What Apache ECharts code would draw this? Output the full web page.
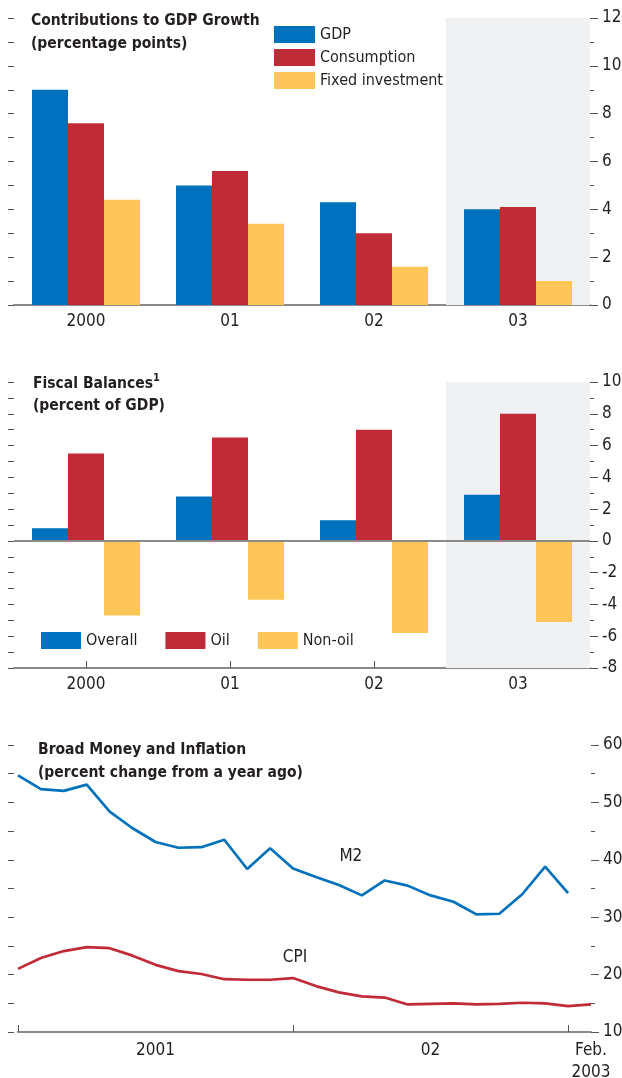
<!DOCTYPE html>
<html>
<head>
<meta charset="utf-8">
<script src="https://cdn.jsdelivr.net/npm/echarts@6/dist/echarts.min.js"></script>
<style>
  html, body { margin: 0; padding: 0; background: #fff; }
  #chart { width: 622px; height: 1078px; }
</style>
</head>
<body>
<div id="chart"></div>
<script>
// 数据
const years = ['2000', '01', '02', '03']
const gdpContrib = [9.0, 5.0, 4.3, 4.0]
const consumptionContrib = [7.6, 5.6, 3.0, 4.1]
const investmentContrib = [4.4, 3.4, 1.6, 1.0]

const overallBalance = [0.8, 2.8, 1.3, 2.9]
const oilBalance = [5.5, 6.5, 7.0, 8.0]
const nonOilBalance = [-4.7, -3.7, -5.8, -5.1]

const months = [
  'Jan 2001', 'Feb 2001', 'Mar 2001', 'Apr 2001', 'May 2001', 'Jun 2001',
  'Jul 2001', 'Aug 2001', 'Sep 2001', 'Oct 2001', 'Nov 2001', 'Dec 2001',
  'Jan 2002', 'Feb 2002', 'Mar 2002', 'Apr 2002', 'May 2002', 'Jun 2002',
  'Jul 2002', 'Aug 2002', 'Sep 2002', 'Oct 2002', 'Nov 2002', 'Dec 2002',
  'Jan 2003', 'Feb 2003'
]
const m2Growth = [
  54.7, 52.3, 52.0, 53.1, 48.4, 45.5, 43.1, 42.1, 42.2, 43.5, 38.4, 42.0,
  38.5, 37.0, 35.6, 33.8, 36.4, 35.5, 33.8, 32.7, 30.5, 30.6, 34.0, 38.8,
  34.2, null
]
const cpiInflation = [
  21.0, 22.9, 24.1, 24.8, 24.6, 23.3, 21.7, 20.6, 20.1, 19.2, 19.1, 19.1,
  19.4, 18.0, 16.9, 16.2, 16.0, 14.8, 14.9, 15.0, 14.8, 14.9, 15.1, 15.0,
  14.5, 14.8
]
const monthTickLabels = { 'Jul 2001': '2001', 'Jul 2002': '02', 'Feb 2003': 'Feb.\n2003' }
const projectionYear = '03'

const FONT = '"DejaVu Sans Condensed", "Liberation Sans Narrow", sans-serif'
const TEXT = '#231f20'
const AXIS = '#8a8a8a'
const BLUE = '#0071bc'
const RED = '#c02b37'
const YELLOW = '#fec659'
const SHADE = '#f0f1f3'
const LABEL_SIZE = 17

const chart = echarts.init(document.getElementById('chart'))

const rightAxis = (gridIndex, min, max, interval) => ({
  type: 'value',
  gridIndex,
  position: 'right',
  min, max, interval,
  splitLine: { show: false },
  axisLine: { show: false },
  axisTick: { show: true, length: 8, lineStyle: { color: '#555' } },
  minorTick: { show: true, splitNumber: 2, length: 4, lineStyle: { color: '#555' } },
  axisLabel: { margin: 12, color: TEXT, fontSize: LABEL_SIZE, fontFamily: FONT }
})

const leftAxis = (gridIndex, min, max, interval, offset) => ({
  type: 'value',
  gridIndex,
  position: 'left',
  offset: offset || 0,
  min, max, interval,
  splitLine: { show: false },
  axisLine: { show: false },
  axisTick: { show: true, length: 6, lineStyle: { color: '#555' } },
  axisLabel: { show: false }
})

const catAxis = (gridIndex, tickShow) => ({
  type: 'category',
  gridIndex,
  data: years,
  axisLine: { onZero: false, lineStyle: { color: AXIS, width: 2 } },
  axisTick: { show: tickShow, inside: true, alignWithLabel: true, length: 7, lineStyle: { color: '#555' } },
  axisLabel: { margin: 8, color: TEXT, fontSize: LABEL_SIZE, fontFamily: FONT }
})

const hiddenCatAxis = (gridIndex) => ({
  type: 'category', gridIndex, data: years, show: false
})

const shadeData = (val) => years.map(y => (y === projectionYear ? val : null))

const barBase = { type: 'bar', barGap: 0, barCategoryGap: '25%' }

const titleStyle = { fontSize: 15.5, fontWeight: 'bold', color: TEXT, fontFamily: FONT, lineHeight: 23 }
const legendText = { fontSize: 16, color: TEXT, fontFamily: FONT, lineHeight: 17 }

const option = {
  animation: false,
  textStyle: { fontFamily: FONT },
  title: [
    {
      text: 'Contributions to GDP Growth\n(percentage points)',
      left: 31, top: 9, padding: 0,
      textStyle: titleStyle
    },
    {
      text: 'Fiscal Balances{sup|1}\n(percent of GDP)',
      left: 33, top: 373, padding: 0,
      textStyle: {
        ...titleStyle, lineHeight: 22,
        rich: { sup: { fontSize: 11, fontWeight: 'bold', color: TEXT, fontFamily: FONT, verticalAlign: 'top', lineHeight: 16 } }
      }
    },
    {
      text: 'Broad Money and Inflation\n(percent change from a year ago)',
      left: 38, top: 738, padding: 0,
      textStyle: titleStyle
    }
  ],
  legend: [
    {
      data: ['GDP', 'Consumption', 'Fixed investment'],
      orient: 'vertical',
      left: 274, top: 26, padding: 0,
      itemWidth: 41, itemHeight: 17, itemGap: 6,
      icon: 'rect',
      textStyle: legendText
    },
    {
      data: ['Overall', 'Oil', 'Non-oil'],
      orient: 'horizontal',
      left: 41, top: 632, padding: 0,
      itemWidth: 40, itemHeight: 17, itemGap: 28,
      icon: 'rect',
      textStyle: legendText
    }
  ],
  grid: [
    { left: 14, right: 32, top: 18, height: 287, outerBoundsMode: 'none', containLabel: false },
    { left: 14, right: 32, top: 382, height: 286, outerBoundsMode: 'none', containLabel: false },
    { left: 18, right: 31, top: 745, height: 287, outerBoundsMode: 'none', containLabel: false }
  ],
  xAxis: [
    catAxis(0, false),
    hiddenCatAxis(0),
    catAxis(1, true),
    hiddenCatAxis(1),
    {
      type: 'category',
      gridIndex: 2,
      data: months,
      boundaryGap: false,
      axisLine: { onZero: false, lineStyle: { color: AXIS, width: 2 } },
      axisTick: {
        show: true, inside: true, length: 7,
        interval: (i) => i % 12 === 0,
        lineStyle: { color: '#555' }
      },
      axisLabel: {
        interval: 0, margin: 8, color: TEXT, fontSize: LABEL_SIZE, fontFamily: FONT, lineHeight: 22,
        formatter: (v) => monthTickLabels[v] || ''
      }
    }
  ],
  yAxis: [
    rightAxis(0, 0, 12, 2),
    leftAxis(0, 0, 12, 1),
    rightAxis(1, -8, 10, 2),
    leftAxis(1, -8, 10, 1),
    rightAxis(2, 10, 60, 10),
    leftAxis(2, 10, 60, 5, 4)
  ],
  series: [
    // 预测期阴影
    {
      name: 'shade1', type: 'bar', xAxisIndex: 1, yAxisIndex: 0,
      barWidth: '100%', silent: true, itemStyle: { color: SHADE },
      data: shadeData(12)
    },
    {
      name: 'shade2a', type: 'bar', xAxisIndex: 3, yAxisIndex: 2, stack: 'shade',
      barWidth: '100%', silent: true, itemStyle: { color: SHADE },
      data: shadeData(10)
    },
    {
      name: 'shade2b', type: 'bar', xAxisIndex: 3, yAxisIndex: 2, stack: 'shade',
      barWidth: '100%', silent: true, itemStyle: { color: SHADE },
      data: shadeData(-8)
    },
    // 对GDP增长的贡献
    { ...barBase, name: 'GDP', xAxisIndex: 0, yAxisIndex: 0, itemStyle: { color: BLUE }, data: gdpContrib },
    { ...barBase, name: 'Consumption', xAxisIndex: 0, yAxisIndex: 0, itemStyle: { color: RED }, data: consumptionContrib },
    { ...barBase, name: 'Fixed investment', xAxisIndex: 0, yAxisIndex: 0, itemStyle: { color: YELLOW }, data: investmentContrib },
    // 财政平衡
    {
      ...barBase, name: 'Overall', xAxisIndex: 2, yAxisIndex: 2, itemStyle: { color: BLUE }, data: overallBalance,
      markLine: {
        silent: true, symbol: 'none', label: { show: false },
        lineStyle: { color: AXIS, width: 2, type: 'solid' },
        data: [{ yAxis: 0 }]
      }
    },
    { ...barBase, name: 'Oil', xAxisIndex: 2, yAxisIndex: 2, itemStyle: { color: RED }, data: oilBalance },
    { ...barBase, name: 'Non-oil', xAxisIndex: 2, yAxisIndex: 2, itemStyle: { color: YELLOW }, data: nonOilBalance },
    // 货币与通胀
    {
      name: 'M2', type: 'line', xAxisIndex: 4, yAxisIndex: 4,
      symbol: 'none', lineStyle: { color: BLUE, width: 2.7 }, itemStyle: { color: BLUE },
      data: m2Growth,
      markPoint: {
        symbol: 'circle', symbolSize: 0,
        label: { show: true, formatter: 'M2', color: TEXT, fontSize: LABEL_SIZE, fontFamily: FONT, offset: [12, 0] },
        data: [{ coord: [months[14], 40.5] }]
      }
    },
    {
      name: 'CPI', type: 'line', xAxisIndex: 4, yAxisIndex: 4,
      symbol: 'none', lineStyle: { color: RED, width: 2.7 }, itemStyle: { color: RED },
      data: cpiInflation,
      markPoint: {
        symbol: 'circle', symbolSize: 0,
        label: { show: true, formatter: 'CPI', color: TEXT, fontSize: LABEL_SIZE, fontFamily: FONT, offset: [2, 0] },
        data: [{ coord: [months[12], 23.0] }]
      }
    }
  ]
}

chart.setOption(option)
</script>
</body>
</html>
